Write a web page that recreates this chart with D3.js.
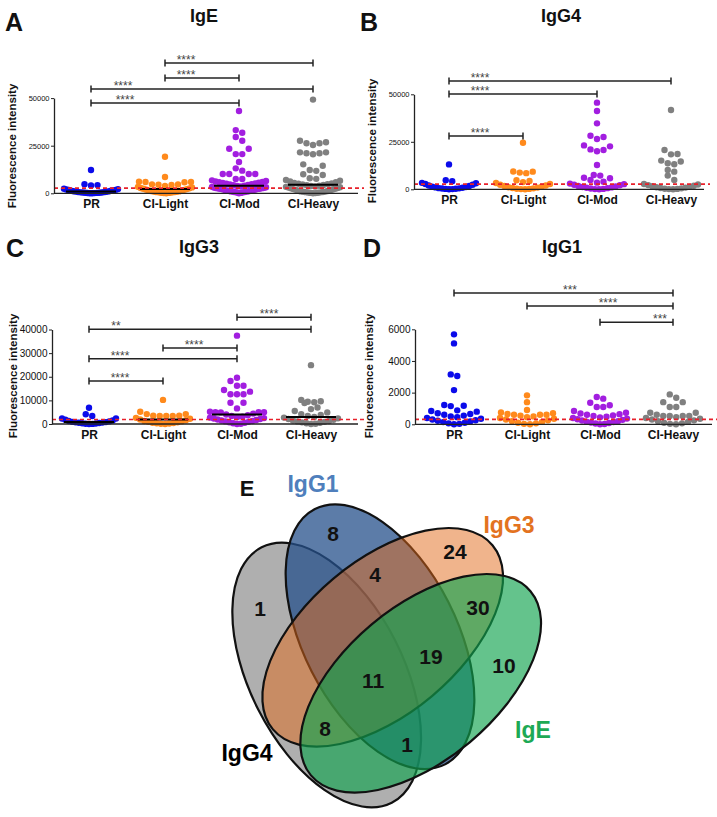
<!DOCTYPE html>
<html>
<head>
<meta charset="utf-8">
<script src="https://cdn.jsdelivr.net/npm/d3@7"></script>
<style>
    body { margin: 0; background: #ffffff; }
    svg text { font-family: "Liberation Sans", Arial, sans-serif; }
</style>
</head>
<body>
<svg id="chart" width="717" height="817"></svg>
<script>
const groups = ["PR", "CI-Light", "CI-Mod", "CI-Heavy"];
const groupColors = ["#0b0bea", "#ff8a1c", "#a21ee0", "#808080"];

// IgE
const igePR = [12200, 4800, 4300, 4100, 2400, 2200, 2000, 1800, 1700, 1500, 1400, 1300, 1100, 1000, 900, 800, 700, 600, 500, 450, 400, 300, 250, 200, 150, 100, 50, 0];
const igeLight = [19200, 8600, 6100, 6000, 5900, 5800, 4700, 4600, 4500, 4400, 3800, 3400, 3100, 2800, 2600, 2400, 2200, 2000, 1800, 1600, 1400, 1200, 1000, 900, 800, 700, 600, 500, 400, 300, 200, 100, 50];
const igeMod = [43200, 33200, 31800, 29600, 27600, 23400, 23400, 20600, 20600, 16400, 13100, 11900, 10100, 10100, 10100, 10100, 7500, 7500, 6800, 6500, 6200, 6000, 5800, 5600, 5400, 5200, 5000, 4800, 4600, 4400, 4200, 4000, 3800, 3600, 3400, 3200, 3000, 2900, 2800, 2700, 2600, 2500, 2400, 2300, 2200, 2100, 2000, 1800, 1600, 1500, 1400, 1300, 1200, 1100, 1000, 900, 800, 700, 600, 500, 400, 200, 0];
const igeHeavy = [49200, 27600, 26800, 26300, 26300, 25400, 21500, 21500, 21000, 21000, 20500, 15200, 14500, 12200, 11800, 10000, 9600, 7900, 7600, 7000, 6600, 6200, 5800, 5500, 5200, 5000, 4800, 4600, 4400, 4200, 4000, 3800, 3600, 3400, 3200, 3000, 2800, 2600, 2400, 2200, 2000, 1800, 1600, 1400, 1200, 1000, 900, 800, 700, 600, 500, 400, 300, 200, 100, 0];
const igeTicks = [0, 25000, 50000];
const igeCutoff = 2700;
const igeBrackets = [["CI-Light", "CI-Heavy", 68400, "****"], ["CI-Light", "CI-Mod", 60500, "****"], ["PR", "CI-Heavy", 54800, "****"], ["PR", "CI-Mod", 47400, "****"]];

// IgG4
const ig4PR = [13100, 4800, 4250, 3400, 3200, 2800, 2400, 2000, 1700, 1400, 1200, 1000, 800, 600, 500, 400, 300, 200, 100, 0];
const ig4Light = [24500, 9400, 9300, 8800, 8500, 4800, 4400, 3800, 3300, 2800, 2400, 2000, 1700, 1400, 1100, 900, 700, 500, 300, 200, 100, 0];
const ig4Mod = [45600, 41200, 34700, 28200, 27500, 26500, 23100, 22600, 21000, 20700, 20000, 12800, 7500, 7200, 6100, 5800, 4900, 4000, 3500, 3000, 2700, 2400, 2100, 1800, 1500, 1200, 1000, 800, 600, 400, 200, 100, 0];
const ig4Heavy = [41700, 20700, 18600, 18400, 15100, 14600, 13700, 13200, 10200, 9300, 7200, 4900, 2800, 2500, 2200, 1900, 1600, 1300, 1100, 900, 700, 500, 300, 200, 100, 0];
const ig4Ticks = [0, 25000, 50000];
const ig4Cutoff = 2700;
const ig4Brackets = [["PR", "CI-Heavy", 57000, "****"], ["PR", "CI-Mod", 50150, "****"], ["PR", "CI-Light", 28050, "****"]];

// IgG3
const ig3PR = [6900, 4100, 3400, 2300, 2300, 1800, 1500, 1300, 1100, 900, 800, 700, 600, 500, 400, 300, 200, 100, 50, 0];
const ig3Light = [10200, 5200, 4200, 4200, 3500, 3500, 3400, 3400, 3400, 2600, 2200, 1900, 1600, 1300, 1100, 900, 700, 500, 400, 300, 200, 100, 0];
const ig3Mod = [37400, 19600, 18200, 16200, 16200, 14400, 13700, 12600, 12600, 12600, 9000, 9000, 6600, 5200, 5000, 5000, 5000, 4900, 4400, 4000, 3700, 3400, 3100, 2900, 2700, 2500, 2300, 2100, 1900, 1700, 1500, 1300, 1100, 900, 700, 500, 300, 100, 0];
const ig3Heavy = [24900, 10200, 9600, 9400, 9200, 8900, 7000, 6300, 5500, 4900, 4200, 3800, 3400, 3000, 2700, 2400, 2100, 1800, 1500, 1300, 1100, 900, 700, 500, 300, 100, 0];
const ig3Ticks = [0, 10000, 20000, 30000, 40000];
const ig3Cutoff = 1900;
const ig3Brackets = [["CI-Mod", "CI-Heavy", 45200, "****"], ["PR", "CI-Heavy", 40100, "**"], ["CI-Light", "CI-Mod", 32200, "****"], ["PR", "CI-Mod", 27600, "****"], ["PR", "CI-Light", 18200, "****"]];

// IgG1
const ig1PR = [5680, 5110, 3150, 3050, 2160, 1220, 1170, 1150, 880, 840, 800, 700, 650, 600, 550, 500, 450, 400, 350, 300, 260, 220, 180, 140, 100, 60, 30, 0];
const ig1Light = [1830, 1400, 900, 750, 700, 650, 600, 600, 600, 550, 500, 450, 400, 350, 300, 250, 200, 150, 100, 60, 30, 0];
const ig1Mod = [1720, 1620, 1360, 1200, 1090, 1090, 840, 730, 680, 640, 600, 560, 520, 480, 440, 400, 360, 320, 280, 240, 200, 170, 140, 110, 80, 50, 20, 0];
const ig1Heavy = [1890, 1680, 1400, 1400, 1090, 1090, 730, 730, 600, 520, 520, 520, 520, 450, 400, 350, 300, 250, 200, 150, 100, 60, 30, 0];
const ig1Ticks = [0, 2000, 4000, 6000];
const ig1Cutoff = 310;
const ig1Brackets = [["PR", "CI-Heavy", 8300, "***"], ["CI-Light", "CI-Heavy", 7470, "****"], ["CI-Mod", "CI-Heavy", 6440, "***"]];

// Venn
const vennSets = ["IgG4", "IgG1", "IgG3", "IgE"];
const vennSetColors = ["#000000", "#4f7fbc", "#e3731f", "#1da955"];
const vennRegions = ["IgG1", "IgG3", "IgG4", "IgG1&IgG3", "IgG3&IgE", "IgG1&IgG3&IgE", "IgE", "all", "IgG4&IgG3&IgE", "IgG4&IgG1&IgE"];
const vennCounts = [8, 24, 1, 4, 30, 19, 10, 11, 8, 1];

// layout
const panels = [
    {letter: "A", title: "IgE", data: [igePR, igeLight, igeMod, igeHeavy], ticks: igeTicks, cutoff: igeCutoff, brackets: igeBrackets,
     starDx: [21, 21, 32, 34], xAxis: [54, 358], cats: [91, 313], yRange: [193.3, 98.1], tickFont: 7.5, median: true,
     letterAt: [5, 31], titleAt: [204, 22], labelAt: [12, 146]},
    {letter: "B", title: "IgG4", data: [ig4PR, ig4Light, ig4Mod, ig4Heavy], ticks: ig4Ticks, cutoff: ig4Cutoff, brackets: ig4Brackets,
     starDx: [31, 31, 31], xAxis: [414, 704], cats: [449, 671], yRange: [189.3, 94.3], tickFont: 7.5, median: false,
     letterAt: [360, 31], titleAt: [561, 22], labelAt: [372, 141]},
    {letter: "C", title: "IgG3", data: [ig3PR, ig3Light, ig3Mod, ig3Heavy], ticks: ig3Ticks, cutoff: ig3Cutoff, brackets: ig3Brackets,
     starDx: [32, 27, 31, 31, 31], xAxis: [52, 358], cats: [89, 311], yRange: [424, 329.5], tickFont: 10, median: true,
     letterAt: [6, 257], titleAt: [199, 253], labelAt: [13, 376]},
    {letter: "D", title: "IgG1", data: [ig1PR, ig1Light, ig1Mod, ig1Heavy], ticks: ig1Ticks, cutoff: ig1Cutoff, brackets: ig1Brackets,
     starDx: [116, 81, 60], xAxis: [415, 712], cats: [454, 673], yRange: [424.3, 329.3], tickFont: 10, median: false,
     letterAt: [363, 257], titleAt: [562, 253], labelAt: [369, 376]}
];

const vennShapes = [
    {cx: 326.7, cy: 675, rx: 143.3, ry: 76.7, rot: 63, fill: "#5f5f5f", opacity: 0.5},
    {cx: 380, cy: 636.7, rx: 143.3, ry: 76.7, rot: 63, fill: "#26508b", opacity: 0.75},
    {cx: 382.7, cy: 637.3, rx: 143.3, ry: 76.7, rot: -40, fill: "#e16919", opacity: 0.5},
    {cx: 420.7, cy: 683.3, rx: 143.3, ry: 76.7, rot: -40, fill: "#11a34e", opacity: 0.65}
];
const vennSetLabelAt = [[247, 761], [313, 492], [509, 533], [533, 738]];
const vennCountAt = [[333, 533], [455, 551], [260, 608], [375, 574], [478, 607], [431, 656], [504, 665], [373, 680], [325, 728], [407, 744]];

const dotR = 3.2;
const dotGap = 6.5;   // spacing of dots inside one row
const rowH = 6.5;     // height of a row of dots, px
const swarmHalf = 27;

const svg = d3.select("#chart");

// GraphPad-like scatter: rows of nearby values, lowest values in the middle
function swarm(values, y, cx) {
    const sorted = values.slice().sort((a, b) => a - b);
    const rows = [];
    let cur = null;
    sorted.forEach(v => {
        const py = y(v);
        if (!cur || cur.y0 - py >= rowH) {
            cur = {y0: py, items: []};
            rows.push(cur);
        }
        cur.items.push({v: v, y: py});
    });
    const out = [];
    rows.forEach(r => {
        const n = r.items.length;
        let s = dotGap;
        if (n > 1 && (n - 1) * s > 2 * swarmHalf) s = 2 * swarmHalf / (n - 1);
        r.items.forEach((it, k) => {
            let off;
            if (n % 2 === 1) {
                off = k === 0 ? 0 : (k % 2 ? 1 : -1) * Math.ceil(k / 2) * s;
            } else {
                off = (k % 2 ? -1 : 1) * (Math.floor(k / 2) + 0.5) * s;
            }
            out.push({x: cx + off, y: it.y, v: it.v});
        });
    });
    return out;
}

function drawPanel(p) {
    const g = svg.append("g");
    const y = d3.scaleLinear().domain([0, p.ticks[p.ticks.length - 1]]).range(p.yRange);
    const x = d3.scalePoint().domain(groups).range(p.cats);
    const y0 = y(0);

    // dots
    groups.forEach((grp, i) => {
        const pts = swarm(p.data[i], y, x(grp));
        g.append("g").selectAll("circle")
            .data(pts)
            .join("circle")
            .attr("cx", d => d.x)
            .attr("cy", d => d.y)
            .attr("r", dotR)
            .attr("fill", groupColors[i]);
    });

    // x axis line
    g.append("line")
        .attr("x1", p.xAxis[0]).attr("x2", p.xAxis[1])
        .attr("y1", y0).attr("y2", y0)
        .attr("stroke", "#222").attr("stroke-width", 1.3);

    // medians
    if (p.median) {
        g.append("g").selectAll("line")
            .data(groups)
            .join("line")
            .attr("x1", d => x(d) - 25).attr("x2", d => x(d) + 25)
            .attr("y1", (d, i) => y(d3.median(p.data[i])))
            .attr("y2", (d, i) => y(d3.median(p.data[i])))
            .attr("stroke", "#000").attr("stroke-width", 2);
    }

    // cutoff
    g.append("line")
        .attr("x1", p.xAxis[0]).attr("x2", p.xAxis[1] + 6)
        .attr("y1", y(p.cutoff)).attr("y2", y(p.cutoff))
        .attr("stroke", "#e8202a").attr("stroke-width", 1.6)
        .attr("stroke-dasharray", "4,3");

    // y axis
    const ax = g.append("g")
        .attr("transform", "translate(" + p.xAxis[0] + ",0)")
        .call(d3.axisLeft(y).tickValues(p.ticks).tickSize(3).tickSizeOuter(0).tickPadding(1.5).tickFormat(d3.format("d")));
    ax.select(".domain").attr("stroke", "#222").attr("stroke-width", 1.3);
    ax.selectAll(".tick line").attr("stroke", "#222");
    ax.selectAll(".tick text").attr("font-size", p.tickFont).attr("fill", "#111")
        .style("font-family", "'Liberation Sans', Arial, sans-serif");

    // x labels
    const bx = g.append("g")
        .attr("transform", "translate(0," + y0 + ")")
        .call(d3.axisBottom(x).tickSize(0).tickPadding(6.5));
    bx.select(".domain").remove();
    bx.selectAll(".tick text").attr("font-size", 12).attr("font-weight", "bold").attr("fill", "#111")
        .style("font-family", "'Liberation Sans', Arial, sans-serif");

    // brackets
    p.brackets.forEach((b, i) => {
        const x1 = x(b[0]), x2 = x(b[1]), by = y(b[2]);
        const bg = g.append("g");
        bg.append("line").attr("x1", x1).attr("x2", x2).attr("y1", by).attr("y2", by)
            .attr("stroke", "#222").attr("stroke-width", 1.5);
        [x1, x2].forEach(xx => {
            bg.append("line").attr("x1", xx).attr("x2", xx).attr("y1", by - 3.5).attr("y2", by + 3.5)
                .attr("stroke", "#222").attr("stroke-width", 1.5);
        });
        bg.append("text")
            .attr("x", x1 + p.starDx[i]).attr("y", by + 1)
            .attr("text-anchor", "middle")
            .attr("font-size", 12).attr("fill", "#444")
            .text(b[3]);
    });

    // y label
    g.append("text")
        .attr("transform", "translate(" + p.labelAt[0] + "," + p.labelAt[1] + ") rotate(-90)")
        .attr("text-anchor", "middle")
        .attr("dominant-baseline", "central")
        .attr("font-size", 11.5).attr("font-weight", "bold").attr("fill", "#111")
        .text("Fluorescence intensity");

    // title and letter
    g.append("text")
        .attr("x", p.titleAt[0]).attr("y", p.titleAt[1])
        .attr("text-anchor", "middle")
        .attr("font-size", 18).attr("font-weight", "bold").attr("fill", "#111")
        .text(p.title);
    g.append("text")
        .attr("x", p.letterAt[0]).attr("y", p.letterAt[1])
        .attr("font-size", 25).attr("font-weight", "bold").attr("fill", "#111")
        .text(p.letter);
}

panels.forEach(drawPanel);

// Venn diagram
const vg = svg.append("g");
vg.selectAll("ellipse")
    .data(vennShapes)
    .join("ellipse")
    .attr("transform", d => "translate(" + d.cx + "," + d.cy + ") rotate(" + d.rot + ")")
    .attr("rx", d => d.rx)
    .attr("ry", d => d.ry)
    .attr("fill", d => d.fill)
    .attr("fill-opacity", d => d.opacity)
    .attr("stroke", "#111")
    .attr("stroke-width", 2.2);

vg.selectAll(".count")
    .data(vennCounts)
    .join("text")
    .attr("class", "count")
    .attr("x", (d, i) => vennCountAt[i][0])
    .attr("y", (d, i) => vennCountAt[i][1])
    .attr("text-anchor", "middle")
    .attr("dominant-baseline", "central")
    .attr("font-size", 21).attr("font-weight", "bold").attr("fill", "#111")
    .text(d => d);

vg.selectAll(".setlabel")
    .data(vennSets)
    .join("text")
    .attr("class", "setlabel")
    .attr("x", (d, i) => vennSetLabelAt[i][0])
    .attr("y", (d, i) => vennSetLabelAt[i][1])
    .attr("text-anchor", "middle")
    .attr("font-size", 23).attr("font-weight", "bold")
    .attr("fill", (d, i) => vennSetColors[i])
    .text(d => d);

vg.append("text")
    .attr("x", 247).attr("y", 496)
    .attr("text-anchor", "middle")
    .attr("font-size", 22).attr("font-weight", "bold").attr("fill", "#111")
    .text("E");
</script>
</body>
</html>
